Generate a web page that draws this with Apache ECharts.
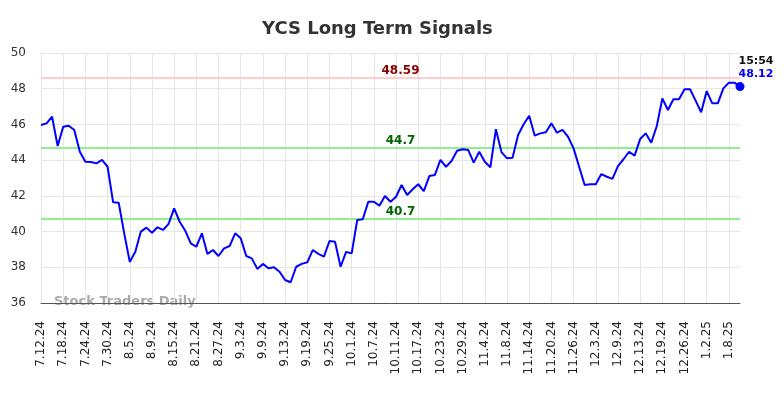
<!DOCTYPE html>
<html>
<head>
<meta charset="utf-8">
<title>YCS Long Term Signals</title>
<style>
	html,body{ margin:0; padding:0; background:#fff;}
	#mainBox{ width:784px; height:398px;}
</style>
</head>
<body>
<div id="mainBox"></div>
<script src="https://cdn.jsdelivr.net/npm/echarts@6/dist/echarts.min.js"></script>
<script>
var dates=[
	'7.12.24','7.15.24','7.16.24','7.17.24','7.18.24','7.19.24','7.22.24','7.23.24','7.24.24','7.25.24',
	'7.26.24','7.29.24','7.30.24','7.31.24','8.1.24','8.2.24','8.5.24','8.6.24','8.7.24','8.8.24',
	'8.9.24','8.12.24','8.13.24','8.14.24','8.15.24','8.16.24','8.19.24','8.20.24','8.21.24','8.22.24',
	'8.23.24','8.26.24','8.27.24','8.28.24','8.29.24','8.30.24','9.3.24','9.4.24','9.5.24','9.6.24',
	'9.9.24','9.10.24','9.11.24','9.12.24','9.13.24','9.16.24','9.17.24','9.18.24','9.19.24','9.20.24',
	'9.23.24','9.24.24','9.25.24','9.26.24','9.27.24','9.30.24','10.1.24','10.2.24','10.3.24','10.4.24',
	'10.7.24','10.8.24','10.9.24','10.10.24','10.11.24','10.14.24','10.15.24','10.16.24','10.17.24','10.18.24',
	'10.21.24','10.22.24','10.23.24','10.24.24','10.25.24','10.28.24','10.29.24','10.30.24','10.31.24','11.1.24',
	'11.4.24','11.5.24','11.6.24','11.7.24','11.8.24','11.11.24','11.12.24','11.13.24','11.14.24','11.15.24',
	'11.18.24','11.19.24','11.20.24','11.21.24','11.22.24','11.25.24','11.26.24','11.27.24','11.29.24','12.2.24',
	'12.3.24','12.4.24','12.5.24','12.6.24','12.9.24','12.10.24','12.11.24','12.12.24','12.13.24','12.16.24',
	'12.17.24','12.18.24','12.19.24','12.20.24','12.23.24','12.24.24','12.26.24','12.27.24','12.30.24','12.31.24',
	'1.2.25','1.3.25','1.6.25','1.7.25','1.8.25','1.10.25','1.13.25'
];
var prices=[
	45.97,46.06,46.43,44.79,45.87,45.93,45.69,44.47,43.91,43.90,
	43.82,44.01,43.63,41.64,41.62,39.90,38.30,38.87,40.00,40.22,
	39.93,40.24,40.09,40.43,41.30,40.55,40.05,39.34,39.15,39.90,
	38.75,38.97,38.63,39.06,39.19,39.90,39.62,38.63,38.50,37.91,
	38.19,37.95,38.00,37.75,37.29,37.16,38.03,38.19,38.28,38.97,
	38.75,38.60,39.47,39.43,38.03,38.86,38.78,40.65,40.69,41.67,
	41.67,41.45,41.99,41.67,41.95,42.61,42.05,42.37,42.65,42.27,
	43.11,43.17,44.01,43.63,43.95,44.53,44.61,44.57,43.86,44.47,
	43.91,43.60,45.73,44.45,44.10,44.14,45.41,46.01,46.49,45.37,
	45.50,45.56,46.06,45.54,45.69,45.31,44.66,43.63,42.61,42.65,
	42.65,43.22,43.07,42.95,43.67,44.05,44.47,44.25,45.18,45.50,
	44.98,45.91,47.46,46.81,47.41,47.41,47.97,47.97,47.33,46.68,
	47.87,47.18,47.18,48.02,48.34,48.34,48.12
];
var resistance=48.59;
var supports=[44.7,40.7];
var lastTime='15:54';
var yTicks={min:36,max:50,step:2};

var font='DejaVu Sans';
var lastIdx=prices.length-1;

var refLine=function(val,lineColor,txtColor){
	return {
		yAxis:val,
		lineStyle:{color:lineColor,width:2,type:'solid'},
		label:{
			show:true,
			position:'insideMiddleTop',
			distance:1,
			padding:[0,0,0,20],
			formatter:String(val),
			color:txtColor,
			fontFamily:font,
			fontWeight:'bold',
			fontSize:12
		}
	};
};

var myChart=echarts.init(document.getElementById('mainBox'));
myChart.setOption({
	animation:false,
	backgroundColor:'#fff',
	title:{
		text:'YCS Long Term Signals',
		left:257,
		top:15,
		textStyle:{fontFamily:font,fontSize:18,fontWeight:'bold',color:'#333'}
	},
	grid:{left:41,right:44,top:53,bottom:95,containLabel:false,outerBoundsMode:'none'},
	xAxis:{
		type:'category',
		data:dates,
		boundaryGap:false,
		axisLine:{lineStyle:{color:'#555',width:1}},
		axisTick:{show:false},
		axisLabel:{interval:3,rotate:90,margin:18,fontFamily:font,fontSize:12,color:'#222'},
		splitLine:{show:true,interval:3,lineStyle:{color:'#e6e6e6',width:1}}
	},
	yAxis:{
		type:'value',
		min:yTicks.min,
		max:yTicks.max,
		interval:yTicks.step,
		axisLine:{show:false},
		axisTick:{show:false},
		axisLabel:{margin:15,fontFamily:font,fontSize:12,color:'#333'},
		splitLine:{lineStyle:{color:'#e6e6e6',width:1}}
	},
	graphic:[{
		type:'text',
		left:54,
		top:295,
		z:0,
		style:{text:'Stock Traders Daily',fill:'rgba(140,140,140,0.75)',font:'bold 13px "DejaVu Sans"'}
	}],
	series:[{
		type:'line',
		data:prices,
		symbol:'none',
		lineStyle:{color:'#0000ff',width:2},
		itemStyle:{color:'#0000ff'},
		z:3,
		markLine:{
			silent:true,
			symbol:'none',
			z:2,
			data:[
				refLine(resistance,'#ffcccc','#8b0000'),
				refLine(supports[0],'#90ee90','#006400'),
				refLine(supports[1],'#90ee90','#006400')
			]
		},
		markPoint:{
			silent:true,
			data:[{
				coord:[dates[lastIdx],prices[lastIdx]],
				symbol:'circle',
				symbolSize:9,
				itemStyle:{color:'#0000ff'},
				label:{
					show:true,
					position:'top',
					distance:1,
					offset:[16,0],
					formatter:'{t|'+lastTime+'}\n{v|'+prices[lastIdx].toFixed(2)+'}',
					rich:{
						t:{fontFamily:font,fontWeight:'bold',fontSize:11,color:'#111',lineHeight:13},
						v:{fontFamily:font,fontWeight:'bold',fontSize:11,color:'#0000ff',lineHeight:13}
					}
				}
			}]
		}
	}]
});
</script>
</body>
</html>
